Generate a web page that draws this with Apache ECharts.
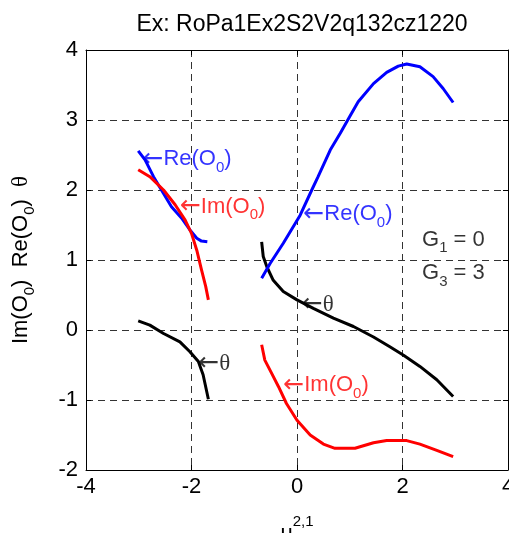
<!DOCTYPE html>
<html><head><meta charset="utf-8">
<script src="https://cdn.jsdelivr.net/npm/echarts@6/dist/echarts.min.js"></script>
<style>html,body{margin:0;padding:0;background:#fff}#c{width:509px;height:533px}</style>
</head><body><div id="c"></div>
<script>
// Left branch
const reLeft = [[-3.01,2.56],[-2.88,2.43],[-2.72,2.19],[-2.53,1.95],[-2.38,1.76],[-2.19,1.60],[-2.03,1.43],[-1.90,1.31],[-1.81,1.27],[-1.70,1.26]];
const imLeft = [[-3.01,2.29],[-2.79,2.19],[-2.53,2.00],[-2.31,1.79],[-2.12,1.57],[-2.00,1.38],[-1.90,1.14],[-1.81,0.86],[-1.73,0.62],[-1.68,0.43]];
const thLeft = [[-3.01,0.13],[-2.79,0.07],[-2.53,-0.05],[-2.22,-0.17],[-2.03,-0.31],[-1.87,-0.45],[-1.78,-0.64],[-1.68,-0.99]];
// Right branch
const reRight = [[-0.67,0.74],[-0.51,0.95],[-0.26,1.24],[0.06,1.64],[0.28,2.00],[0.40,2.19],[0.63,2.57],[0.82,2.81],[1.00,3.05],[1.16,3.26],[1.45,3.52],[1.70,3.68],[1.92,3.77],[2.08,3.80],[2.33,3.76],[2.58,3.62],[2.77,3.45],[2.96,3.25]];
const thRight = [[-0.67,1.26],[-0.64,1.05],[-0.57,0.90],[-0.45,0.71],[-0.26,0.55],[0.00,0.43],[0.31,0.31],[0.69,0.17],[1.07,0.05],[1.45,-0.10],[1.76,-0.24],[2.02,-0.36],[2.33,-0.52],[2.65,-0.71],[2.96,-0.95]];
const imRight = [[-0.67,-0.21],[-0.61,-0.43],[-0.48,-0.62],[-0.35,-0.81],[-0.20,-1.05],[0.00,-1.29],[0.25,-1.50],[0.50,-1.63],[0.72,-1.69],[1.10,-1.69],[1.45,-1.61],[1.70,-1.58],[2.08,-1.58],[2.33,-1.63],[2.65,-1.72],[2.96,-1.81]];
// Annotations [x, y]
const reNotes = [[-2.93,2.42],[0.12,1.63]];
const imNotes = [[-2.22,1.74],[-0.26,-0.81]];
const thNotes = [[-1.87,-0.48],[0.09,0.36]];
const gNotes = [[2.37,1.27,'{a|G}{s|1}{a| = 0}'],[2.37,0.79,'{a|G}{s|3}{a| = 3}']];
const xTicks = [-4,-2,0,2,4];
const yTicks = [-2,-1,0,1,2,3,4];

const FF = 'Liberation Sans, Arial, sans-serif';
const FS = 22;
const rich = (c) => ({
  a:{fontFamily:FF,fontSize:FS,color:c,height:26,verticalAlign:'top'},
  r:{fontFamily:'DejaVu Sans, sans-serif',fontSize:25,color:c,height:26,verticalAlign:'top'},
  s:{fontFamily:FF,fontSize:15,color:c,padding:[14,0,0,0],verticalAlign:'top'},
  t:{fontFamily:'Liberation Serif, Times New Roman, serif',fontSize:23,color:c,height:26,verticalAlign:'top'}
});
function lineS(data,color){return {type:'line',data:data,symbol:'none',lineStyle:{color:color,width:3},smooth:false,z:3};}
function noteS(data,color,txt){
  return {type:'scatter',data:data,symbolSize:0,z:5,
    label:{show:true,position:[0,0],align:'left',verticalAlign:'middle',
      formatter:txt,rich:rich(color)}};
}
const chart = echarts.init(document.getElementById('c'));
chart.setOption({
  animation:false,
  title:{text:'Ex: RoPa1Ex2S2V2q132cz1220',left:297,top:8,textAlign:'center',
    textStyle:{fontFamily:FF,fontSize:23,fontWeight:'normal',color:'#000'}},
  grid:{left:86,top:50,right:1,bottom:63,show:false,containLabel:false,outerBoundsMode:'none'},
  xAxis:[{type:'value',min:-4,max:4,interval:2,
    axisLine:{show:true,onZero:false,lineStyle:{color:'#000',width:1}},
    axisTick:{inside:true,length:5,lineStyle:{color:'#000'}},
    axisLabel:{color:'#000',fontFamily:FF,fontSize:FS,margin:6,hideOverlap:false,
      formatter:(v)=>xTicks.includes(v)?String(v):''},
    splitLine:{show:true,lineStyle:{color:'#333',type:[7,5],width:1}},
    name:'{a|u}{s|2,1}',nameLocation:'middle',nameGap:44,
    nameTextStyle:{rich:{a:{fontFamily:FF,fontSize:FS,color:'#000',padding:[9,0,0,0],verticalAlign:'top'},s:{fontFamily:FF,fontSize:15,color:'#000',verticalAlign:'top'}}}},
   {type:'value',position:'top',min:-4,max:4,interval:2,
    axisLine:{show:true,onZero:false,lineStyle:{color:'#000'}},
    axisTick:{inside:true,length:5,lineStyle:{color:'#000'}},axisLabel:{show:false},splitLine:{show:false}}],
  yAxis:[{type:'value',min:-2,max:4,interval:1,
    axisLine:{show:true,onZero:false,lineStyle:{color:'#000',width:1}},
    axisTick:{inside:true,length:5,lineStyle:{color:'#000'}},
    axisLabel:{color:'#000',fontFamily:FF,fontSize:FS,margin:8,hideOverlap:false,
      formatter:(v)=>yTicks.includes(v)?String(v):''},
    splitLine:{show:true,lineStyle:{color:'#333',type:[7,5],width:1}},
    name:'{a|Im(O}{s|0}{a|)  Re(O}{s|0}{a|)  }{t|θ}',nameLocation:'middle',nameGap:49,nameRotate:90,
    nameTextStyle:{rich:{a:{fontFamily:FF,fontSize:FS,color:'#000',height:26,verticalAlign:'top'},
      s:{fontFamily:FF,fontSize:15,color:'#000',padding:[14,0,0,0],verticalAlign:'top'},
      t:{fontFamily:'Liberation Serif, serif',fontSize:23,color:'#000',height:26,verticalAlign:'top'}}}},
   {type:'value',position:'right',min:-2,max:4,interval:1,
    axisLine:{show:true,onZero:false,lineStyle:{color:'#000'}},
    axisTick:{inside:true,length:5,lineStyle:{color:'#000'}},axisLabel:{show:false},splitLine:{show:false}}],
  series:[
    lineS(reLeft,'#0000ff'),lineS(imLeft,'#ff0000'),lineS(thLeft,'#000000'),
    lineS(imRight,'#ff0000'),lineS(thRight,'#000000'),lineS(reRight,'#0000ff'),
    noteS(reNotes,'#0000ff','{r|←}{a|Re(O}{s|0}{a|)}'),
    noteS(imNotes,'#ff0000','{r|←}{a|Im(O}{s|0}{a|)}'),
    noteS(thNotes,'#000000','{r|←}{t|θ}'),
    {type:'scatter',data:gNotes.map(g=>({value:[g[0],g[1]],label:{formatter:g[2]}})),symbolSize:0,z:5,
      label:{show:true,position:[0,0],align:'left',verticalAlign:'middle',rich:rich('#000')}}
  ]
});
</script></body></html>
